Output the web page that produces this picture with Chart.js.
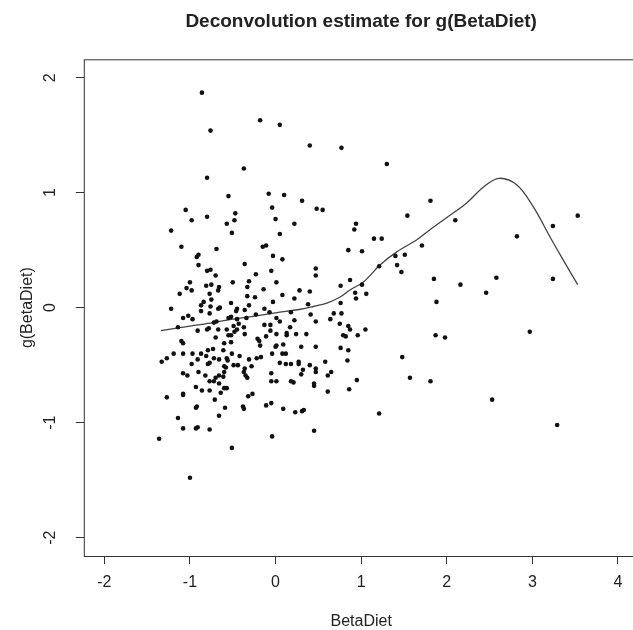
<!DOCTYPE html>
<html>
<head>
<meta charset="utf-8">
<script src="https://cdn.jsdelivr.net/npm/chart.js@4.4.1/dist/chart.umd.min.js"></script>
<style>
  html, body { margin: 0; padding: 0; background: #fff; overflow: hidden; width: 633px; height: 630px; }
  #clip { width: 633px; height: 630px; overflow: hidden; position: relative; }
  #wrap { position: absolute; left: 0; top: 0; width: 660px; height: 630px; }
</style>
</head>
<body>
<div id="clip"><div id="wrap"><canvas id="chart"></canvas></div></div>
<script>
const xTicks = [-2, -1, 0, 1, 2, 3, 4];
const yTicks = [-2, -1, 0, 1, 2];

// observed points (BetaDiet, g(BetaDiet))
const pointX = [
  -0.86, -0.18, 0.05, -0.76, -0.37, -0.80, -0.55, -0.08, 0.10, -0.04, -1.05, -0.47, -0.98, -0.80, -0.48, -0.57, 0.00, 0.22, -1.22, -0.51, 0.05,
  0.40, 0.77, 1.30, 0.31, 0.48, 0.55, 1.81, 1.54, 2.10, 0.94, 0.92, 1.15, 1.24,
  3.53, 3.24, 2.82,
  2.16, 2.46, 2.58, 3.24, 2.97, 2.53, 3.29, 1.87, 1.98,
  0.85, 1.01, 1.71, 1.40, 1.51, 1.42, 1.47, 1.21, 0.08, 0.47, 0.47, 0.87, 0.76, 1.01, 1.85, 0.08, 0.28, 0.40, 0.22, 0.93,
  1.06, 0.94, 0.38, 0.76, 1.88, 0.18, 0.41, 0.68, 0.77, 0.22, 0.47, 0.64, 0.05, 0.17, 0.75, 0.85, 0.87, 1.05, 0.13, 0.13,
  0.24, 0.36, 0.79, 0.82, 0.96, 0.09, 0.30, 0.47, 0.76, 0.85, 0.08, 0.12, 1.48, 0.58, 0.84, 0.05, 0.12, 0.18, 0.27, 0.27,
  0.40, 0.47, 0.47, 0.32, 0.30, 0.65, 0.61, 1.57, 1.81, 0.95, 0.18, 0.21, 0.45, 0.45, 0.61, 0.86, 0.09, 0.23, 0.31, 0.33,
  1.21, 0.45,
  -0.92, -0.93, -0.71, -0.59, -0.38, -0.37, -0.11, -0.05, -1.14, -0.66, -1.08, -0.93, -0.91, -0.77, -1.36, -0.04, -0.51, -1.00,
  -1.10, -0.69, -0.15, -0.11, -0.90, -0.92, -0.03, -0.90, -0.36, -0.80, -0.76, -0.70, -0.05, -0.23, -1.00, -1.04, -0.98, -0.81,
  -0.75, -0.66, -0.67, -0.50, -0.31, -0.33, 0.01, -0.14, -1.12, -0.77, -0.75, -0.52, -0.33, -0.24, -0.03, -1.22, -0.84, -0.87,
  -0.87, -0.76, -0.65, -0.67, -0.45, -0.46, -0.36, -0.31, -0.13, -0.07, -0.77, -1.08, -1.02, -0.97, -0.55, -0.52, -0.45, -0.34,
  -0.23, 0.01, -1.14, -0.72, -0.69, -0.49, -0.43, -0.37, -0.13, -0.06, -0.91, -0.80, -0.78, -0.67, -0.57, -0.48, -0.45, -0.36,
  -0.55, -0.52, -0.06, -0.70, -0.21, -0.19, -0.11, 0.01, -1.10, -1.08, -0.60, -0.52, -0.18, 0.01, 0.00, -0.79, -0.73, -0.61,
  -0.51, -0.97, -0.87, -1.08, -1.19, -1.27, -1.33, -0.81, -0.91, -0.72, -0.66, -0.57, -0.56, -0.42, -0.31, -0.22, -0.17, -0.04,
  -0.98, -0.77, -0.79, -0.49, -0.44, -0.60, -0.58, -0.36, -0.28, -1.08, -1.03, -0.90, -0.82, -0.66, -0.70, -0.60, -0.61, -0.37,
  -0.35, -0.33, -0.05, -0.05, 0.01, -0.93, -0.86, -0.77, -0.72, -0.77, -0.66, -0.60, -0.57, -0.64, -1.08, -1.08, -1.27, -0.32,
  -0.27
];
const pointY = [
  1.87, 1.63, 1.59, 1.54, 1.21, 1.13, 0.97, 0.99, 0.98, 0.87, 0.85, 0.82, 0.76, 0.79, 0.76, 0.73, 0.77, 0.73, 0.67, 0.65, 0.64,
  1.41, 1.39, 1.25, 0.93, 0.86, 0.85, 0.93, 0.80, 0.76, 0.73, 0.68, 0.60, 0.60,
  0.80, 0.71, 0.62,
  0.20, 0.13, 0.26, 0.25, -0.21, -0.80, -1.02, -0.24, -0.26,
  0.50, 0.49, 0.54, 0.45, 0.46, 0.37, 0.31, 0.36, 0.42, 0.34, 0.28, 0.24, 0.19, 0.20, 0.25, 0.11, 0.15, 0.14, 0.08, 0.13,
  0.12, 0.08, 0.03, 0.04, 0.05, -0.04, -0.06, -0.05, -0.05, -0.11, -0.12, -0.10, -0.12, -0.17, -0.14, -0.16, -0.19, -0.19, -0.22, -0.24,
  -0.23, -0.23, -0.24, -0.25, -0.24, -0.32, -0.34, -0.34, -0.35, -0.37, -0.40, -0.40, -0.43, -0.47, -0.46, -0.48, -0.49, -0.49, -0.47, -0.49,
  -0.50, -0.53, -0.56, -0.54, -0.58, -0.56, -0.59, -0.61, -0.64, -0.63, -0.64, -0.65, -0.66, -0.68, -0.73, -0.71, -0.88, -0.91, -0.90, -0.89,
  -0.92, -1.07,
  -0.86, -0.87, -0.80, -0.87, -0.86, -0.88, -0.85, -0.83, -0.96, -0.94, -1.05, -1.05, -1.04, -1.06, -1.14, -1.12, -1.22, -1.48,
  0.53, 0.51, 0.53, 0.54, 0.46, 0.44, 0.45, 0.37, 0.38, 0.32, 0.33, 0.28, 0.32, 0.29, 0.22, 0.17, 0.15, 0.19,
  0.20, 0.18, 0.15, 0.22, 0.23, 0.18, 0.22, 0.16, 0.12, 0.12, 0.07, 0.04, 0.10, 0.09, 0.05, -0.01, 0.05, 0.02,
  -0.03, 0.01, 0.00, -0.01, -0.01, -0.03, -0.02, 0.02, -0.01, -0.04, -0.05, -0.09, -0.07, -0.10, -0.09, -0.08, -0.10, -0.09,
  -0.06, -0.09, -0.17, -0.13, -0.12, -0.16, -0.14, -0.17, -0.15, -0.15, -0.20, -0.19, -0.18, -0.19, -0.19, -0.21, -0.19, -0.23,
  -0.24, -0.24, -0.20, -0.26, -0.27, -0.29, -0.25, -0.23, -0.29, -0.31, -0.31, -0.30, -0.33, -0.33, -0.34, -0.37, -0.36, -0.37,
  -0.40, -0.40, -0.40, -0.40, -0.40, -0.44, -0.47, -0.42, -0.45, -0.44, -0.45, -0.44, -0.46, -0.42, -0.45, -0.44, -0.43, -0.40,
  -0.49, -0.48, -0.49, -0.50, -0.50, -0.51, -0.52, -0.53, -0.51, -0.57, -0.59, -0.56, -0.59, -0.59, -0.61, -0.56, -0.60, -0.56,
  -0.59, -0.61, -0.57, -0.64, -0.64, -0.69, -0.72, -0.64, -0.64, -0.72, -0.66, -0.70, -0.70, -0.74, -0.75, -0.76, -0.78, -0.77,
  -0.75
];

// deconvolution estimate curve
const curveX = [-1.34, -1.0, -0.73, -0.5, -0.3, 0.0, 0.29, 0.44, 0.6, 0.75, 0.87, 1.03, 1.22, 1.42, 1.65, 1.8, 2.05, 2.23, 2.43, 2.61, 2.82, 3.01, 3.21, 3.36, 3.53];
const curveY = [-0.20, -0.16, -0.13, -0.10, -0.08, -0.045, -0.014, 0.01, 0.04, 0.09, 0.154, 0.226, 0.371, 0.487, 0.59, 0.676, 0.81, 0.908, 1.05, 1.125, 1.067, 0.878, 0.61, 0.415, 0.20];

const FONT = "'Liberation Sans', Arial, sans-serif";
const INK = '#222';

const points = pointX.map((x, i) => ({ x: x, y: pointY[i] }));
const curve = curveX.map((x, i) => ({ x: x, y: curveY[i] }));

// box, y labels parallel to the axis, and the main title over the plot region
const rPlot = {
  id: 'rPlot',
  afterDraw(chart) {
    const ctx = chart.ctx;
    const a = chart.chartArea;
    const ys = chart.scales.y;
    ctx.save();
    ctx.strokeStyle = '#333';
    ctx.lineWidth = 1;
    ctx.strokeRect(a.left + 0.5, a.top + 0.5, a.right - a.left, a.bottom - a.top);

    ctx.fillStyle = INK;
    ctx.font = '16px ' + FONT;
    ctx.textAlign = 'center';
    ctx.textBaseline = 'middle';
    yTicks.forEach(v => {
      const py = ys.getPixelForValue(v);
      ctx.save();
      ctx.translate(51, py);
      ctx.rotate(-Math.PI / 2);
      ctx.fillText(String(v), 0, 0);
      ctx.restore();
    });

    ctx.font = 'bold 19px ' + FONT;
    ctx.fillText('Deconvolution estimate for g(BetaDiet)', (a.left + a.right) / 2, 22);
    ctx.restore();
  }
};

new Chart(document.getElementById('chart'), {
  type: 'scatter',
  data: {
    datasets: [
      {
        data: points,
        pointRadius: 2.3,
        pointBackgroundColor: '#111',
        pointBorderWidth: 0,
        showLine: false
      },
      {
        data: curve,
        showLine: true,
        pointRadius: 0,
        borderColor: '#444',
        borderWidth: 1.3,
        tension: 0.35,
        fill: false
      }
    ]
  },
  options: {
    responsive: true,
    maintainAspectRatio: false,
    animation: false,
    layout: { padding: { top: 59.3, right: 21.5, left: 0, bottom: 0 } },
    plugins: {
      legend: { display: false },
      tooltip: { enabled: false },
      title: { display: false }
    },
    scales: {
      x: {
        type: 'linear',
        min: -2.24,
        max: 4.24,
        afterBuildTicks: s => { s.ticks = xTicks.map(v => ({ value: v })); },
        afterFit: s => { s.height = 74; },
        border: { display: false },
        grid: { drawOnChartArea: false, drawTicks: true, tickLength: 8, color: '#333' },
        ticks: { color: INK, font: { family: FONT, size: 16, lineHeight: 1.2 }, padding: 9, maxRotation: 0 },
        title: { display: true, text: 'BetaDiet', color: INK, font: { family: FONT, size: 16, lineHeight: 1 }, padding: { top: 0, bottom: 0 } }
      },
      y: {
        type: 'linear',
        min: -2.16,
        max: 2.16,
        afterBuildTicks: s => { s.ticks = yTicks.map(v => ({ value: v })); },
        afterFit: s => { s.width = 83.8; },
        border: { display: false },
        grid: { drawOnChartArea: false, drawTicks: true, tickLength: 8, color: '#333' },
        ticks: { color: 'rgba(0,0,0,0)', font: { family: FONT, size: 16 } },
        title: { display: true, text: 'g(BetaDiet)', color: INK, font: { family: FONT, size: 16, lineHeight: 1 }, padding: { top: 20, bottom: 0 } }
      }
    }
  },
  plugins: [rPlot]
});
</script>
</body>
</html>
